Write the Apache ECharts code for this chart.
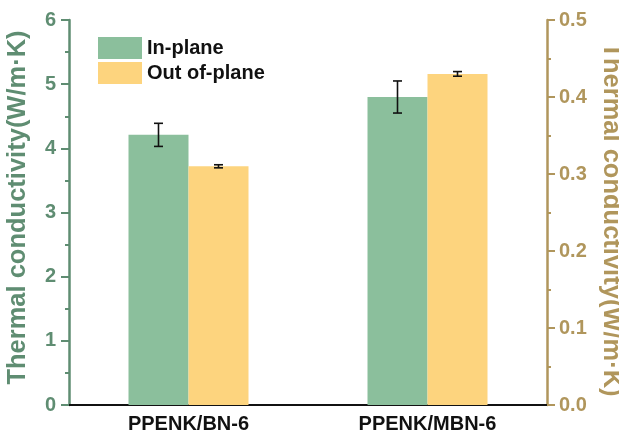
<!DOCTYPE html>
<html>
<head>
<meta charset="utf-8">
<script src="https://cdn.jsdelivr.net/npm/echarts@6/dist/echarts.min.js"></script>
<style>html,body{margin:0;padding:0;background:#fff;}#c{width:619px;height:438px;}</style>
</head>
<body>
<div id="c"></div>
<script>
var categories = ['PPENK/BN-6', 'PPENK/MBN-6'];
var inPlane = [4.21, 4.80];
var inPlaneErr = [0.18, 0.25];
var outPlane = [0.310, 0.430];
var outPlaneErr = [0.002, 0.003];
var seriesNames = ['In-plane', 'Out of-plane'];

var GREEN = '#8bbf9c', ORANGE = '#fdd47e';
var LEFTC = '#5f8d72', RIGHTC = '#b0965c';
var BAR_W = 60;
var FONT = 'Liberation Sans, Arial, sans-serif';

function errItem(offset, vals, errs) {
  return function (params, api) {
    var i = api.value(0);
    var v = vals[i], e = errs[i];
    var top = api.coord([i, v + e]);
    var bot = api.coord([i, v - e]);
    var x = top[0] + offset;
    var hw = 4.5;
    var st = { stroke: '#111', lineWidth: 1.6 };
    return { type: 'group', children: [
      { type: 'line', shape: { x1: x, y1: top[1], x2: x, y2: bot[1] }, style: st },
      { type: 'line', shape: { x1: x - hw, y1: top[1], x2: x + hw, y2: top[1] }, style: st },
      { type: 'line', shape: { x1: x - hw, y1: bot[1], x2: x + hw, y2: bot[1] }, style: st }
    ]};
  };
}

var chart = echarts.init(document.getElementById('c'));
chart.setOption({
  animation: false,
  textStyle: { fontFamily: FONT },
  grid: { left: 69, right: 72, top: 20, bottom: 33, containLabel: false, outerBoundsMode: 'none' },
  legend: {
    data: seriesNames,
    orient: 'vertical',
    left: 93, top: 32,
    itemWidth: 44, itemHeight: 22, itemGap: 3,
    icon: 'rect',
    textStyle: { fontSize: 20, fontWeight: 'bold', color: '#111', fontFamily: FONT }
  },
  xAxis: [{
    type: 'category',
    data: categories,
    position: 'bottom',
    axisLine: { lineStyle: { color: '#111', width: 2 } },
    axisTick: { alignWithLabel: true, length: 6, lineStyle: { color: '#111', width: 2 } },
    axisLabel: { fontSize: 20, fontWeight: 'bold', color: '#111', margin: 9 }
  }, {
    type: 'category',
    data: categories,
    position: 'top',
    axisLine: { lineStyle: { color: '#111', width: 2 } },
    axisTick: { show: false },
    axisLabel: { show: false }
  }],
  yAxis: [{
    type: 'value',
    min: 0, max: 6, interval: 1,
    position: 'left',
    name: 'Thermal conductivity(W/m·K)',
    nameLocation: 'middle',
    nameGap: 38,
    nameTextStyle: { fontSize: 25.5, fontWeight: 'bold', color: LEFTC, padding: [0, 0, 0, 10] },
    axisLine: { show: true, lineStyle: { color: LEFTC, width: 2.5 } },
    axisTick: { show: true, length: 8, lineStyle: { color: LEFTC, width: 2 } },
    minorTick: { show: true, splitNumber: 2, length: 4, lineStyle: { color: LEFTC, width: 2 } },
    splitLine: { show: false },
    axisLabel: { fontSize: 20, fontWeight: 'bold', color: LEFTC, margin: 13 }
  }, {
    type: 'value',
    min: 0, max: 0.5, interval: 0.1,
    position: 'right',
    name: 'Thermal conductivity(W/m·K)',
    nameLocation: 'middle',
    nameRotate: -90,
    nameGap: 46,
    nameTextStyle: { fontSize: 25.5, fontWeight: 'bold', color: RIGHTC, padding: [0, 0, 0, 14] },
    axisLine: { show: true, lineStyle: { color: RIGHTC, width: 2.5 } },
    axisTick: { show: true, length: 8, lineStyle: { color: RIGHTC, width: 2 } },
    minorTick: { show: true, splitNumber: 2, length: 4, lineStyle: { color: RIGHTC, width: 2 } },
    splitLine: { show: false },
    axisLabel: { fontSize: 20, fontWeight: 'bold', color: RIGHTC, margin: 12,
      formatter: function (v) { return v.toFixed(1); } }
  }],
  series: [{
    name: seriesNames[0], type: 'bar', yAxisIndex: 0,
    data: inPlane, barWidth: BAR_W, barGap: '0%',
    itemStyle: { color: GREEN }
  }, {
    name: seriesNames[1], type: 'bar', yAxisIndex: 1,
    data: outPlane, barWidth: BAR_W, barGap: '0%',
    itemStyle: { color: ORANGE }
  }, {
    name: 'errIn', type: 'custom', yAxisIndex: 0, z: 5,
    renderItem: errItem(-BAR_W / 2, inPlane, inPlaneErr),
    data: categories.map(function (c, i) { return [i, inPlane[i]]; })
  }, {
    name: 'errOut', type: 'custom', yAxisIndex: 1, z: 5,
    renderItem: errItem(BAR_W / 2, outPlane, outPlaneErr),
    data: categories.map(function (c, i) { return [i, outPlane[i]]; })
  }]
});
</script>
</body>
</html>
